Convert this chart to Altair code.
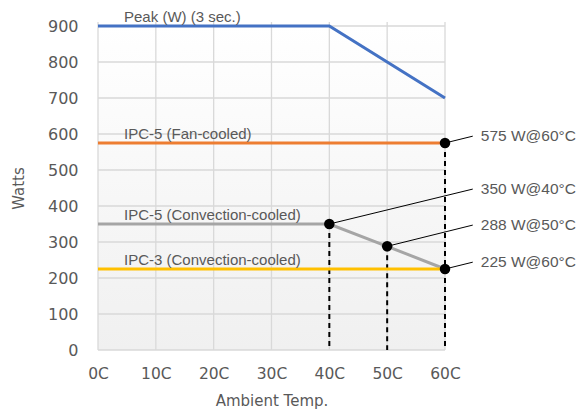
import altair as alt
import pandas as pd

# Series data
peak_x = [0, 40, 60]
peak_y = [900, 900, 700]
fan_x = [0, 60]
fan_y = [575, 575]
conv5_x = [0, 40, 50, 60]
conv5_y = [350, 350, 288, 225]
conv3_x = [0, 60]
conv3_y = [225, 225]

series_names = ["Peak (W) (3 sec.)", "IPC-5 (Fan-cooled)", "IPC-5 (Convection-cooled)", "IPC-3 (Convection-cooled)"]
series_colors = ["#4472C4", "#ED7D31", "#A5A5A5", "#FFC000"]
series_label_y = [900, 575, 350, 225]

# Marked points and annotations
pt_x = [60, 40, 50, 60]
pt_y = [575, 350, 288, 225]
pt_text = ["575 W@60°C", "350 W@40°C", "288 W@50°C", "225 W@60°C"]
ann_x = [64.8, 64.8, 64.8, 64.8]
ann_y = [594, 447, 347, 244]

# Dashed drops
drop_x = [40, 50, 60]
drop_top = [350, 288, 575]

x_ticks = [0, 10, 20, 30, 40, 50, 60]
y_ticks = [0, 100, 200, 300, 400, 500, 600, 700, 800, 900]

xs = alt.Scale(domain=[0, 60], nice=False, zero=False)
ys = alt.Scale(domain=[0, 900], nice=False)

FONT_AX = "DejaVu Sans"
FONT_TX = "Liberation Sans"
GRAY = "#595959"

x_axis = alt.Axis(values=x_ticks, labelExpr="datum.value + 'C'", title="Ambient Temp.",
                  grid=False, domain=False, ticks=False, labelPadding=16, titlePadding=12,
                  labelFlush=False, labelOverlap=False,
                  labelFont=FONT_AX, titleFont=FONT_AX, labelFontSize=15.5, titleFontSize=15,
                  labelColor=GRAY, titleColor=GRAY, titleFontWeight="normal")
y_axis = alt.Axis(values=y_ticks, title="Watts", grid=False, domain=False, ticks=False,
                  labelPadding=20, titlePadding=21, labelFlush=False, labelOverlap=False,
                  labelFont=FONT_AX, titleFont=FONT_AX, labelFontSize=16, titleFontSize=15,
                  labelColor=GRAY, titleColor=GRAY, titleFontWeight="normal")


def X(field="x:Q"):
    return alt.X(field, scale=xs, axis=x_axis)


def Y(field="y:Q"):
    return alt.Y(field, scale=ys, axis=y_axis)


bg = alt.Chart(pd.DataFrame({"x": [0], "x2": [60], "y": [0], "y2": [900]})).mark_rect(
    color=alt.Gradient(gradient="linear", x1=0, y1=0, x2=0, y2=1,
                       stops=[alt.GradientStop(color="#ffffff", offset=0),
                              alt.GradientStop(color="#f0f0f0", offset=1)])
).encode(x=X(), x2="x2:Q", y=Y(), y2="y2:Q")

vgrid = alt.Chart(pd.DataFrame({"x": x_ticks})).mark_rule(color="#d9d9d9", strokeWidth=1.3).encode(
    x=X(), y=alt.value(-4), y2=alt.value(324))
hgrid = alt.Chart(pd.DataFrame({"y": y_ticks})).mark_rule(color="#d9d9d9", strokeWidth=1.3).encode(
    y=Y(), x=alt.value(0), x2=alt.value(347))

drops = alt.Chart(pd.DataFrame({"x": drop_x, "y": drop_top, "y0": [0, 0, 0]})).mark_rule(
    color="black", strokeWidth=2, strokeDash=[5, 4]).encode(
    x=X(), y=Y(), y2="y0:Q")

rows = []
for name, xv, yv in zip(series_names, [peak_x, fan_x, conv5_x, conv3_x], [peak_y, fan_y, conv5_y, conv3_y]):
    for i, (a, b) in enumerate(zip(xv, yv)):
        rows.append({"series": name, "x": a, "y": b, "o": i})
lines_df = pd.DataFrame(rows)

lines = alt.Chart(lines_df).mark_line(strokeWidth=3).encode(
    x=X(), y=Y(),
    color=alt.Color("series:N", scale=alt.Scale(domain=series_names, range=series_colors), legend=None),
    order="o:Q", detail="series:N")

lab = alt.Chart(pd.DataFrame({"t": series_names, "y": series_label_y, "x": [4.5] * 4})).mark_text(
    align="left", baseline="bottom", dy=-1, font=FONT_TX, fontSize=15, color=GRAY).encode(
    x=X(), y=Y(), text="t:N")

lead = alt.Chart(pd.DataFrame({"x": pt_x, "y": pt_y, "x2": ann_x, "y2": ann_y})).mark_rule(
    color="black", strokeWidth=1).encode(
    x=X(), y=Y(), x2="x2:Q", y2="y2:Q")

pts = alt.Chart(pd.DataFrame({"x": pt_x, "y": pt_y})).mark_point(
    filled=True, color="black", size=110, opacity=1).encode(
    x=X(), y=Y())

ann = alt.Chart(pd.DataFrame({"x": ann_x, "y": ann_y, "t": pt_text})).mark_text(
    align="left", baseline="middle", dx=8, font=FONT_TX, fontSize=15.5, color=GRAY).encode(
    x=X(), y=Y(), text="t:N")

chart = alt.layer(bg, vgrid, hgrid, drops, lines, lab, lead, pts, ann).properties(
    width=347, height=324,
    autosize=alt.AutoSizeParams(type="none"),
    padding={"left": 90, "top": 18, "right": 132, "bottom": 68},
).configure_view(stroke=None).configure_axis(labelOverlap=False)

chart.save("out.html", embed_options={"renderer": "svg", "actions": False})
